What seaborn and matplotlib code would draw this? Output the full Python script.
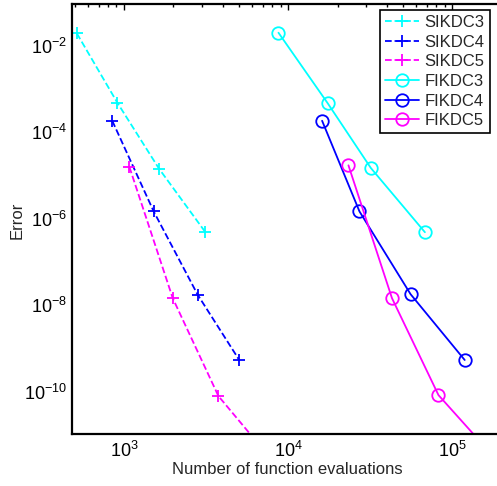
import numpy as np
import pandas as pd
import seaborn as sns
import matplotlib
matplotlib.use("Agg")
import matplotlib.pyplot as plt
from matplotlib.ticker import FixedLocator, NullLocator, LogLocator, LogFormatterMathtext

sns.set_style("white")
plt.rcParams['font.family'] = ['Liberation Sans', 'DejaVu Sans']
plt.rcParams['mathtext.fontset'] = 'custom'
plt.rcParams['mathtext.rm'] = 'Liberation Sans'
plt.rcParams['mathtext.it'] = 'Liberation Sans'

# Data
sik3_x = [516, 910, 1634, 3133]
sik3_y = [1.96e-2, 4.9e-4, 1.45e-5, 4.9e-7]
sik4_x = [848, 1517, 2813, 5020]
sik4_y = [1.86e-4, 1.48e-6, 1.74e-8, 5.5e-10]
sik5_x = [1078, 1982, 3760, 6900]
sik5_y = [1.6e-5, 1.45e-8, 7.9e-11, 5e-12]
fik3_x = [8730, 17370, 31900, 68100]
fik3_y = [2.03e-2, 4.8e-4, 1.5e-5, 4.9e-7]
fik4_x = [16100, 27200, 55700, 119000]
fik4_y = [1.86e-4, 1.48e-6, 1.8e-8, 5.4e-10]
fik5_x = [23300, 42900, 82400, 160000]
fik5_y = [1.73e-5, 1.46e-8, 8.3e-11, 5e-12]

series = [
    ("SIKDC3", sik3_x, sik3_y, "#00ffff", "--", "+"),
    ("SIKDC4", sik4_x, sik4_y, "#0000ff", "--", "+"),
    ("SIKDC5", sik5_x, sik5_y, "#ff00ff", "--", "+"),
    ("FIKDC3", fik3_x, fik3_y, "#00ffff", "-", "o"),
    ("FIKDC4", fik4_x, fik4_y, "#0000ff", "-", "o"),
    ("FIKDC5", fik5_x, fik5_y, "#ff00ff", "-", "o"),
]

W, H = 497, 486
fig = plt.figure(figsize=(W / 100, H / 100), dpi=100)
left, right, top, bottom = 72.3, 499.5, 4.0, 434.3
ax = fig.add_axes([left / W, 1 - bottom / H, (right - left) / W, (bottom - top) / H])

for name, xs, ys, col, ls, mk in series:
    df = pd.DataFrame({"x": xs, "y": ys})
    sns.lineplot(data=df, x="x", y="y", ax=ax, color=col, linestyle=ls,
                 marker=mk, markersize=9,
                 markerfacecolor="none", markeredgecolor=col,
                 markeredgewidth=1.3, linewidth=1.3, label=name, sort=False)

ax.set_xscale("log")
ax.set_yscale("log")
# 1e3 at px 124, 1e5 at px 452.3 with axes spanning 72.3..499.5
dec = (452.3 - 124) / 2
ax.set_xlim(10 ** (3 - (124 - left) / dec), 10 ** (5 + (right - 452.3) / dec))
ax.set_ylim(1.03e-11, 0.0938)

ax.yaxis.set_major_locator(FixedLocator([1e-10, 1e-8, 1e-6, 1e-4, 1e-2]))
ax.yaxis.set_major_formatter(LogFormatterMathtext())
ax.yaxis.set_minor_locator(NullLocator())
ax.xaxis.set_major_locator(FixedLocator([1e3, 1e4, 1e5]))
ax.xaxis.set_major_formatter(LogFormatterMathtext())
ax.xaxis.set_minor_locator(LogLocator(base=10, subs=np.arange(2, 10), numticks=20))

ax.tick_params(which="both", direction="in", top=True, right=False,
               labelsize=13, colors="black", width=1.0)
ax.tick_params(which="major", length=4)
ax.tick_params(axis="y", which="major", pad=4)
ax.tick_params(axis="x", which="major", pad=5)
ax.tick_params(which="minor", length=2.5)

for sp in ax.spines.values():
    sp.set_linewidth(1.6)
    sp.set_color("black")

ax.set_xlabel("Number of function evaluations", fontsize=12)
ax.set_ylabel("Error", fontsize=12)
ax.xaxis.set_label_coords((287.5 - left) / (right - left), -(469 - bottom) / (bottom - top))
ax.yaxis.set_label_coords(-(left - 17) / (right - left), (bottom - 220) / (bottom - top))
ax.xaxis.label.set_va("center")
ax.yaxis.label.set_va("center")

leg = ax.legend(loc="upper right", fontsize=12, frameon=True, fancybox=False,
                framealpha=1, edgecolor="black",
                bbox_to_anchor=((489.5 - left) / (right - left), (bottom - 10) / (bottom - top)),
                borderaxespad=0.0,
                handlelength=2.0, handletextpad=0.35, labelspacing=0.28,
                borderpad=0.3)
leg.get_frame().set_linewidth(1.2)

fig.savefig("out.png", dpi=100)
